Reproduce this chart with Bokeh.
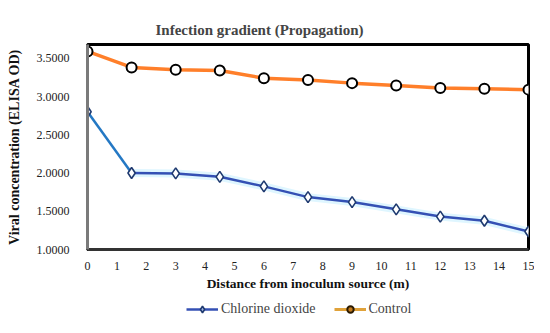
from bokeh.plotting import figure
from bokeh.layouts import column
from bokeh.models import FixedTicker, NumeralTickFormatter, Range1d, Legend, LegendItem, AllLabels
from bokeh.embed import file_html
from bokeh.resources import INLINE

distance = [0, 1.5, 3, 4.5, 6, 7.5, 9, 10.5, 12, 13.5, 15]
chlorine = [2.80, 2.00, 1.995, 1.95, 1.825, 1.685, 1.62, 1.525, 1.43, 1.375, 1.235]
control = [3.59, 3.38, 3.35, 3.34, 3.24, 3.215, 3.175, 3.145, 3.11, 3.10, 3.09]
x_ticks = list(range(0, 16))
y_ticks = [1.0, 1.5, 2.0, 2.5, 3.0, 3.5]
series_names = ["Chlorine dioxide", "Control"]

FONT = "Liberation Serif"
BLUE = "#3450b4"
ORANGE = "#ff7f2a"

p = figure(width=534, height=297, output_backend="svg", toolbar_location=None,
           x_range=Range1d(0, 15), y_range=Range1d(1.0, 3.68),
           min_border_left=87, min_border_right=6, min_border_top=44, min_border_bottom=48)

p.title.text = "Infection gradient (Propagation)"
p.title.text_font = FONT
p.title.text_font_size = "15px"
p.title.text_font_style = "bold"
p.title.align = "left"
p.title.offset = 68
p.title.standoff = 14

p.xgrid.visible = False
p.ygrid.visible = False
p.outline_line_color = "black"
p.outline_line_width = 3

p.xaxis.ticker = FixedTicker(ticks=x_ticks)
p.yaxis.ticker = FixedTicker(ticks=y_ticks)
p.yaxis.formatter = NumeralTickFormatter(format="0.0000")
for ax in (p.xaxis, p.yaxis):
    ax.major_tick_line_color = None
    ax.minor_tick_line_color = None
    ax.major_label_policy = AllLabels()
    ax.major_label_text_font = FONT
    ax.major_label_text_font_size = "12px"
    ax.major_label_text_color = "#222222"
    ax.axis_label_text_font = FONT
    ax.axis_label_text_font_size = "13.5px"
    ax.axis_label_text_font_style = "bold"
    ax.axis_label_text_color = "#111111"
p.yaxis.axis_label_text_font_size = "14px"
p.xaxis.axis_label = "Distance from inoculum source (m)"
p.yaxis.axis_label = "Viral concentration (ELISA OD)"
p.yaxis.axis_line_color = "#7a7a7a"
p.yaxis.axis_line_width = 3
p.xaxis.axis_line_color = "#333333"
p.xaxis.axis_line_width = 3
p.yaxis.major_label_standoff = 12
p.xaxis.major_label_standoff = 6
p.xaxis.axis_label_standoff = 3
p.yaxis.axis_label_standoff = 12

# Chlorine dioxide
p.line(distance[1:], chlorine[1:], line_color="#dff6ff", line_width=8)
p.line(distance[:2], chlorine[:2], line_color="#2478c4", line_width=2.5)
p.line(distance[1:], chlorine[1:], line_color=BLUE, line_width=2.5)
p.scatter(distance, chlorine, marker="diamond", size=11, fill_color="white",
          line_color="#1f3a70", line_width=1.6)
# Control
p.line(distance, control, line_color=ORANGE, line_width=3.5)
p.scatter(distance, control, marker="circle", size=10, fill_color="white",
          line_color="black", line_width=2)

# legend strip (its sample renderers lie outside the strip's visible ranges)
q = figure(width=534, height=20, output_backend="svg", toolbar_location=None,
           x_range=Range1d(100, 101), y_range=Range1d(100, 101), min_border=0)
q.axis.visible = False
q.grid.visible = False
q.outline_line_color = None
k1 = q.line(distance, chlorine, line_color=BLUE, line_width=2.5)
s1 = q.scatter(distance, chlorine, marker="diamond", size=8, fill_color="#9fb4e0",
               line_color="#1f3a70", line_width=1.6)
k2 = q.line(distance, control, line_color="#e0a23a", line_width=3)
s2 = q.scatter(distance, control, marker="circle", size=8, fill_color="#c07a20",
               line_color="#2a1a00", line_width=2)
legend = Legend(items=[LegendItem(label=series_names[0], renderers=[k1, s1]),
                       LegendItem(label=series_names[1], renderers=[k2, s2])],
                orientation="horizontal", location=(99, 0),
                label_text_font=FONT, label_text_font_size="14px",
                glyph_width=32, glyph_height=16, spacing=18, label_standoff=3,
                border_line_color=None, background_fill_alpha=0,
                margin=0, padding=2)
q.add_layout(legend, "center")

open("out.html", "w").write(file_html(column(p, q, spacing=0), INLINE))
